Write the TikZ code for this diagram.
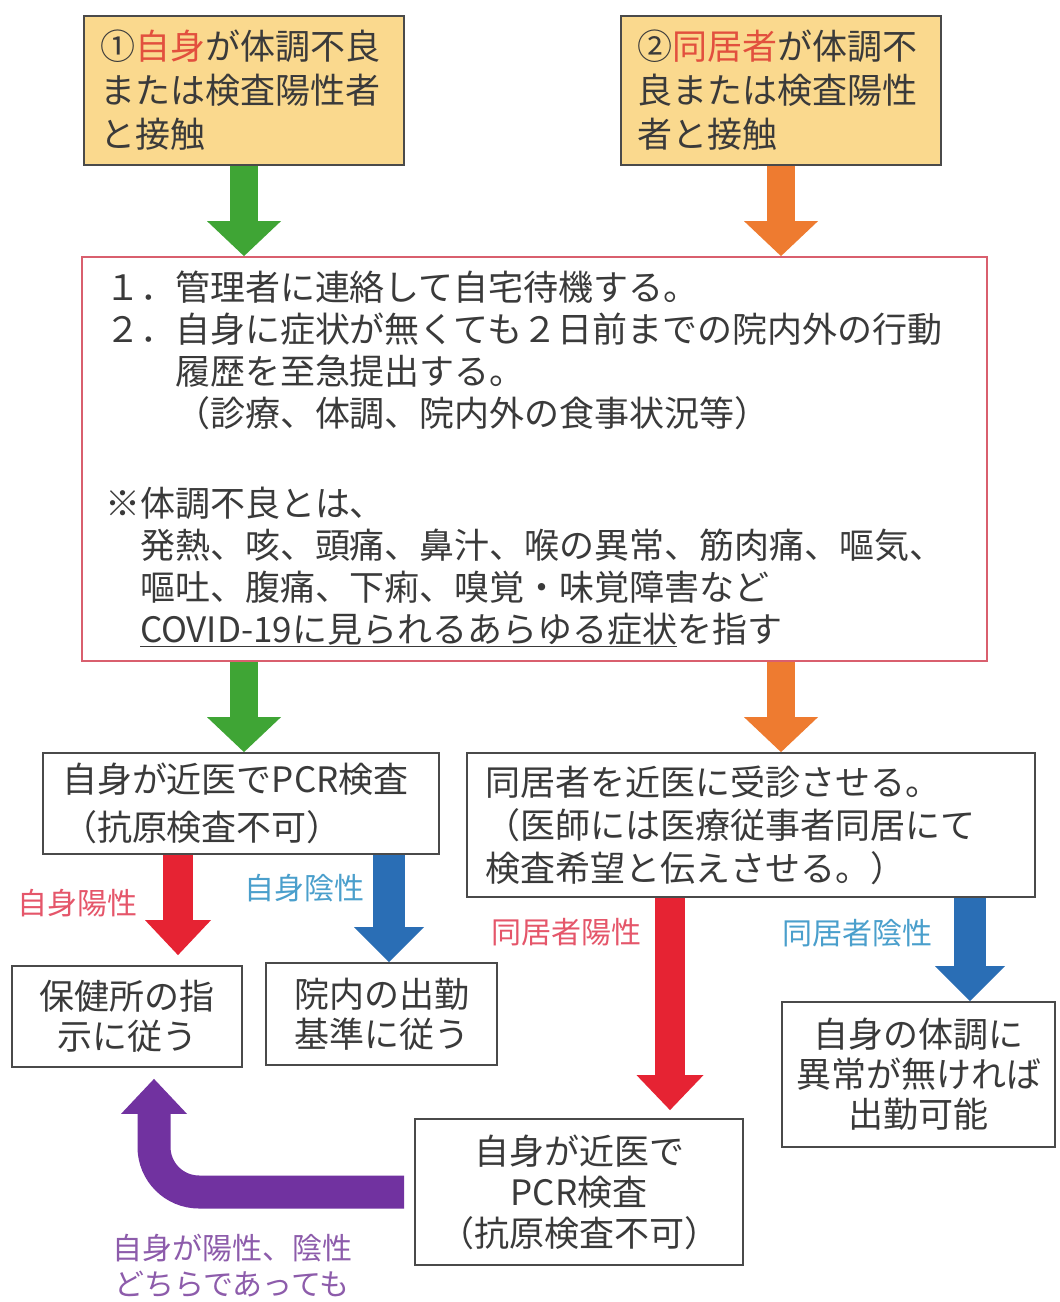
\documentclass[tikz,border=0pt]{standalone}
\usepackage{fontspec}
\setmainfont{Noto Sans CJK JP}
\usetikzlibrary{arrows.meta}

\definecolor{txt}{HTML}{3A3A3A}
\definecolor{boxline}{HTML}{4A4A4A}
\definecolor{topfill}{HTML}{FAD98E}
\definecolor{mainline}{HTML}{D95F6E}
\definecolor{jred}{HTML}{E2503E}
\definecolor{agreen}{HTML}{3FA535}
\definecolor{aorange}{HTML}{EE7B30}
\definecolor{ared}{HTML}{E62333}
\definecolor{ablue}{HTML}{2A6EB5}
\definecolor{apurple}{HTML}{7132A0}
\definecolor{lred}{HTML}{E5566A}
\definecolor{lblue}{HTML}{4A9FCC}
\definecolor{lpurple}{HTML}{8D5CAB}

\tikzset{
  box/.style={draw=boxline, line width=1.8pt, inner ysep=0pt, text=txt},
  topbox/.style={box, fill=topfill, minimum width=320pt, minimum height=149pt,
    text width=288pt, inner xsep=16pt, align=left, font=\fontsize{35}{44}\selectfont},
  flowbox/.style={box, font=\fontsize{35}{42}\selectfont},
  lbl/.style={inner sep=0pt, font=\fontsize{30}{37}\selectfont},
  fat/.style 2 args={line width=#1, -{Triangle[width=#2,length=35pt,line width=0pt]}},
}

\begin{document}
\begin{tikzpicture}[x=1pt,y=-1pt]
  \fill[white] (0,0) rectangle (1060,1302);
  \useasboundingbox (0,0) rectangle (1060,1302);

  % start boxes
  \node[topbox] (top1) at (244,90.5) {①{\color{jred}自身}が体調不良\\または検査陽性者\\と接触};
  \node[topbox] (top2) at (781,90.5) {②{\color{jred}同居者}が体調不\\良または検査陽性\\者と接触};

  % what to do
  \node[box, draw=mainline, minimum width=905pt, minimum height=404pt, text width=859pt,
    inner xsep=23pt, align=left, font=\fontsize{35}{42}\selectfont] (main) at (534.5,459) {%
    １．管理者に連絡して自宅待機する。\\
    ２．自身に症状が無くても２日前までの院内外の行動\\
    　　履歴を至急提出する。\\
    　　（診療、体調、院内外の食事状況等）\\[48pt]
    ※体調不良とは、\\
    　発熱、咳、頭痛、鼻汁、喉の異常、筋肉痛、嘔気、\\
    　嘔吐、腹痛、下痢、嗅覚・味覚障害など\\
    　\underline{COVID-19に見られるあらゆる症状}を指す};

  % left branch
  \node[flowbox, minimum width=396pt, minimum height=101pt, text width=358pt, inner xsep=19pt,
    align=left, font=\fontsize{35}{48}\selectfont] (pcr1) at (241,803.5) {自身が近医でPCR検査\\（抗原検査不可）};
  \node[flowbox, minimum width=230pt, minimum height=101pt, align=center,
    font=\fontsize{35}{40}\selectfont] (health) at (127,1016.5) {保健所の指\\示に従う};
  \node[flowbox, minimum width=231pt, minimum height=102pt, align=center,
    font=\fontsize{35}{40}\selectfont] (rule) at (381.5,1014) {院内の出勤\\基準に従う};

  % right branch
  \node[flowbox, minimum width=568pt, minimum height=144pt, text width=532pt, inner xsep=18pt,
    align=left, font=\fontsize{35}{43}\selectfont] (visit) at (751,825) {同居者を近医に受診させる。\\（医師には医療従事者同居にて\\検査希望と伝えさせる。）};
  \node[flowbox, minimum width=273pt, minimum height=145pt, align=center,
    font=\fontsize{35}{40}\selectfont] (ok) at (918.5,1074.5) {自身の体調に\\異常が無ければ\\出勤可能};
  \node[flowbox, minimum width=328pt, minimum height=146pt, align=center,
    font=\fontsize{35}{41}\selectfont] (pcr2) at (579,1192) {自身が近医で\\PCR検査\\（抗原検査不可）};

  % labels
  \node[lbl, text=lred] (selfpos) at (77,903) {自身陽性};
  \node[lbl, text=lblue] (selfneg) at (304,888) {自身陰性};
  \node[lbl, text=lred] (cohpos) at (566,932) {同居者陽性};
  \node[lbl, text=lblue] (cohneg) at (857,933) {同居者陰性};
  \node[lbl, text=lpurple, align=center, font=\fontsize{30}{36}\selectfont] (either) at (232,1266) {自身が陽性、陰性\\どちらであっても};

  % x positions of the arrows
  \coordinate (xr1) at (178,0);
  \coordinate (xb1) at (389,0);
  \coordinate (xr2) at (670,0);
  \coordinate (xb2) at (970,0);
  \coordinate (xp) at (154,0);

  % arrows
  \draw[agreen, fat={28pt}{74pt}] (top1.south) -- (top1.south |- main.north);
  \draw[aorange, fat={28pt}{74pt}] (top2.south) -- (top2.south |- main.north);
  \draw[agreen, fat={28pt}{74pt}] (top1.south |- main.south) -- (top1.south |- pcr1.north);
  \draw[aorange, fat={28pt}{74pt}] (top2.south |- main.south) -- (top2.south |- visit.north);
  \draw[ared, fat={30pt}{66pt}, shorten >=10pt] (pcr1.south -| xr1) -- (health.north -| xr1);
  \draw[ablue, fat={32pt}{70pt}] (pcr1.south -| xb1) -- (rule.north -| xb1);
  \draw[ared, fat={30pt}{67pt}, shorten >=8pt] (visit.south -| xr2) -- (pcr2.north -| xr2);
  \draw[ablue, fat={32pt}{70pt}] (visit.south -| xb2) -- (ok.north -| xb2);
  \draw[apurple, fat={33pt}{66pt}, rounded corners=45pt, shorten <=10pt, shorten >=11pt]
    (pcr2.west) -| (health.south -| xp);
\end{tikzpicture}
\end{document}
